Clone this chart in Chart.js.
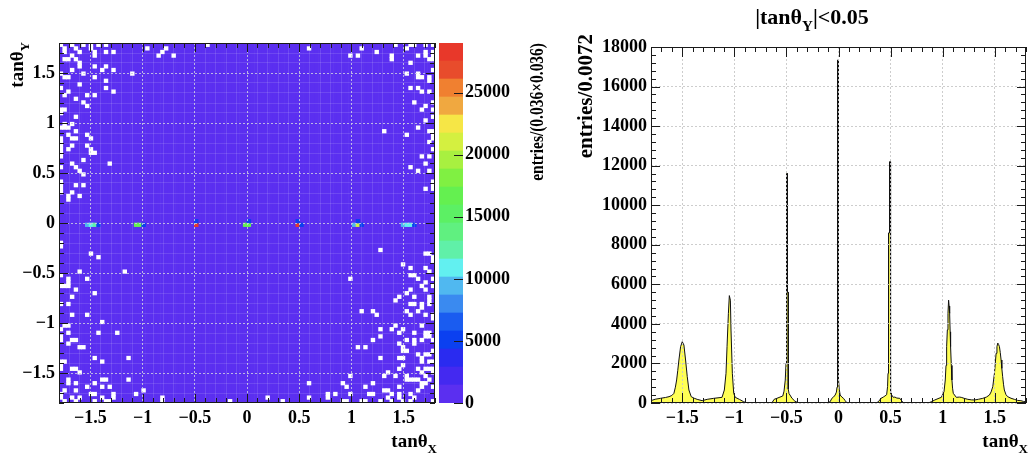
<!DOCTYPE html>
<html>
<head>
<meta charset="utf-8">
<script src="https://cdn.jsdelivr.net/npm/chart.js"></script>
<style>
  body { margin: 0; background: #fff; }
  #wrap { position: relative; width: 1031px; height: 460px; overflow: hidden; }
  #wrap canvas { position: absolute; top: 0; }
</style>
</head>
<body>
<div id="wrap">
  <canvas id="mapChart" width="440" height="460" style="left:0px"></canvas>
  <canvas id="zChart" width="120" height="460" style="left:439px"></canvas>
  <canvas id="projChart" width="471" height="460" style="left:560px"></canvas>
</div>
<script>
// Left: tanθY vs tanθX map (100 x 100 bins of 0.036), right: projection for |tanθY|<0.05

var axisMin = -1.8, axisMax = 1.8;
var nBins = 100;
var binWidth = 0.036;
var majorTicksXY = [-1.5, -1, -0.5, 0, 0.5, 1, 1.5];
var zTicks = [0, 5000, 10000, 15000, 20000, 25000];
var projTicks = [0, 2000, 4000, 6000, 8000, 10000, 12000, 14000, 16000, 18000];

// colour levels of the palette axis, bottom to top
var contourStep = 1450;
var paletteColors = ['#5b2ff0', '#4429f0', '#2a2bf0', '#0b40f0', '#1a5cf0', '#3a8af0', '#50b8f0',
    '#62f0f0', '#60f0a8', '#60f080', '#5cf064', '#64f050', '#80f042', '#a8f040', '#d4f040',
    '#f6e646', '#f0a840', '#f08030', '#e84c2c', '#e8382a'];

// typical content of the populated bins (all in the lowest level)
var backgroundLevel = 500;

// empty bins [ix, row], ix counted from tanθX=-1.8, row counted from tanθY=+1.8 downwards
var emptyCells = [
    [0,0],[3,0],[6,0],[8,0],[8,1],[10,0],[12,0],[1,1],[4,1],[1,2],[5,2],[9,2],[9,3],[12,2],[14,2],
    [3,3],[1,4],[2,4],[4,4],[5,5],[5,6],[9,6],[12,6],[11,7],[14,7],[3,7],[6,8],[19,8],[0,8],
    [1,9],[2,9],[9,9],[12,10],[5,11],[12,12],[0,12],[14,13],[2,13],[7,14],[9,14],[1,14],
    [4,15],[6,16],[7,17],[0,18],[1,18],[0,19],[4,20],[1,22],[3,22],[2,23],[1,23],[0,23],[4,24],
    [2,25],[7,25],[4,26],[0,26],[3,26],[8,26],[0,27],[0,28],[3,28],[7,28],[2,29],[8,29],[0,29],
    [0,30],[8,30],[9,30],[0,31],[6,32],[13,33],[3,33],[4,34],[0,34],[5,35],[6,36],[0,38],
    [4,39],[6,39],[0,39],[0,40],[3,41],[0,41],[2,42],[5,42],[2,43],
    [23,1],[28,1],[27,2],[26,3],[30,3],[39,0],[66,1],
    [80,1],[89,0],[92,1],[93,0],[94,0],[97,0],[99,0],[77,3],[79,3],[84,2],[88,3],[88,4],
    [95,3],[97,2],[97,3],[98,4],[99,2],[99,3],[99,4],[93,5],[92,8],[95,8],[95,9],[96,9],[99,7],
    [98,9],[98,10],[93,12],[95,12],[96,13],[98,13],[94,16],[97,17],[96,18],[99,16],[99,18],
    [99,20],[97,21],[95,23],[98,24],[99,24],[99,25],[99,26],[98,27],[86,24],[92,25],[99,29],
    [96,31],[98,31],[97,33],[93,34],[95,35],[98,35],[99,38],[99,39],[97,40],[99,40],
    [0,55],[0,56],[8,58],[10,59],[5,63],[17,63],[0,64],[7,65],[2,65],[2,66],[2,67],[0,67],
    [1,67],[4,68],[9,69],[3,70],[0,72],[2,72],[3,75],[7,75],[11,77],[1,78],[2,78],[0,79],
    [2,80],[10,80],[15,80],[0,81],[0,82],[3,82],[4,82],[2,83],[5,84],[6,84],[9,87],[11,88],
    [18,87],[0,88],[1,88],[0,89],[0,90],[3,90],[4,90],[5,91],[2,93],[11,93],[12,93],[18,93],
    [4,94],[2,94],[9,94],[7,95],[11,95],[13,95],[1,96],[4,96],[22,96],[8,97],[9,97],[14,97],
    [14,98],[20,97],[0,97],[0,98],[3,98],[5,98],[1,99],[4,99],[9,99],[11,98],[12,99],[13,99],
    [27,98],[27,99],[45,99],
    [85,57],[97,58],[98,58],[99,59],[99,60],[91,61],[93,62],[97,62],[98,63],[77,65],[93,64],
    [94,64],[95,65],[99,65],[97,66],[96,67],[99,67],[97,68],[93,68],[92,69],[94,70],[90,70],
    [98,70],[98,71],[98,72],[89,71],[93,72],[94,72],[96,72],[96,73],[80,74],[83,74],[84,75],
    [92,74],[93,75],[95,74],[97,75],[99,75],[99,76],[96,78],[89,78],[88,79],[85,79],[91,79],
    [90,80],[94,80],[97,80],[98,80],[98,81],[97,81],[85,81],[83,82],[92,82],[94,82],[94,83],
    [96,82],[99,82],[90,83],[79,84],[81,84],[91,84],[91,85],[92,85],[99,85],[95,86],[97,86],
    [98,86],[85,87],[90,87],[91,87],[96,87],[96,88],[98,88],[99,88],[91,89],[90,90],[95,90],
    [96,91],[97,90],[98,90],[99,90],[87,91],[86,92],[89,92],[77,92],[92,92],[93,93],[92,93],
    [94,93],[95,93],[97,92],[98,93],[99,91],[96,94],[97,94],[66,94],[75,94],[76,95],[81,95],
    [83,94],[90,95],[95,96],[96,95],[99,95],[86,96],[87,96],[73,97],[71,97],[71,98],[77,97],
    [82,97],[83,97],[88,97],[90,97],[90,98],[93,97],[94,98],[87,98],[55,98],[66,98],[81,99],
    [80,99],[85,99],[88,99],[91,99],[93,99],[75,99],[76,99],[59,99],[99,99]
];

// filled bins along tanθY ~ 0 [ix, row, entries]
var peakCells = [
    [7,50,9400],[8,50,10800],[9,50,12300],[10,50,5000],
    [20,50,16500],[21,50,17000],[22,50,5000],
    [36,50,28500],[36,49,5500],
    [49,50,16500],[50,50,16000],[50,49,5500],
    [63,50,28000],[64,50,5500],[63,49,5000],
    [78,50,9000],[79,50,21500],[80,50,5000],[79,49,5000],
    [91,50,9000],[92,50,10500],[93,50,10800],[94,50,5000]
];

// projection outline, entries per 0.0072 (repeated x = bin edge of a narrow spike)
var projX = [-1.8, -1.76, -1.71, -1.66, -1.627, -1.6, -1.58, -1.566, -1.554, -1.543, -1.532, -1.516,
    -1.5, -1.484, -1.468, -1.452, -1.436, -1.414, -1.385, -1.357, -1.309, -1.261, -1.198, -1.118,
    -1.096, -1.08, -1.07, -1.057, -1.048, -1.038, -1.032, -1.019, -1.006, -0.991, -0.95, -0.911,
    -0.879, -0.64, -0.618, -0.592, -0.535, -0.523, -0.5112, -0.504, -0.504, -0.4968, -0.4968,
    -0.4896, -0.4896, -0.4824, -0.4824, -0.475, -0.446, -0.42, -0.398, -0.38,
    -0.12, -0.1, -0.08, -0.064, -0.048, -0.032, -0.02, -0.0144, -0.0144, -0.0072, -0.0072,
    0, 0, 0.0072, 0.016, 0.032, 0.048, 0.064, 0.08, 0.1,
    0.36, 0.382, 0.408, 0.43, 0.446, 0.462, 0.471, 0.4752, 0.4752, 0.4824, 0.4824, 0.4896,
    0.4896, 0.4968, 0.4968, 0.503, 0.526, 0.541, 0.56, 0.589, 0.605, 0.621, 0.64,
    0.86, 0.89, 0.924, 0.955, 0.987, 1.013,
    1.025, 1.032, 1.038, 1.045, 1.051, 1.057, 1.062, 1.067, 1.072, 1.076, 1.083, 1.089, 1.095,
    1.102, 1.131, 1.16, 1.178, 1.21, 1.242, 1.275, 1.306, 1.345, 1.385, 1.42, 1.449, 1.465,
    1.481, 1.497, 1.505, 1.513, 1.521, 1.529, 1.537, 1.545, 1.553, 1.561, 1.568, 1.576, 1.584,
    1.592, 1.608, 1.624, 1.656, 1.688, 1.72, 1.751, 1.775, 1.8];
var projEntries = [120, 190, 236, 280, 320, 380, 489, 800, 1163, 1650, 2174, 2848,
    3100, 2932, 2174, 1331, 657, 320, 240, 185, 118, 185, 236, 286,
    657, 1500, 2848, 4533, 5430, 5200, 3690, 1500, 489, 286, 180, 67,
    0, 0, 185, 236, 354, 600, 1160, 2000, 9500, 9500, 11600,
    11600, 5600, 5600, 700, 480, 236, 100, 34, 0,
    0, 20, 67, 236, 300, 404, 550, 800, 13550, 13550, 17340,
    17340, 1200, 700, 404, 300, 236, 120, 17, 0,
    0, 60, 236, 300, 354, 420, 826, 1500, 5500, 5500, 8600, 8600,
    12200, 12200, 1200, 489, 286, 300, 250, 236, 120, 17, 0,
    0, 60, 152, 220, 286, 573,
    1163, 1900, 2848, 3700, 4533, 5200, 4900, 4533, 3600, 2848, 1900, 1163, 750,
    489, 286, 300, 286, 230, 185, 160, 152, 190, 236, 300, 404, 560,
    826, 1500, 2000, 2511, 2850, 3030, 2960, 2848, 2550, 2174, 1750, 1331, 950,
    657, 420, 320, 240, 185, 130, 118, 80, 60];

var serif = "'Liberation Serif', 'Times New Roman', serif";
var tickFont = { family: serif, weight: 'bold', size: 18 };

function isIn(value, list) {
    for (var i = 0; i < list.length; i++)
        if (Math.abs(list[i] - value) < 1e-6) return true;
    return false;
}

// ROOT style labels with a real minus sign
function fmtTick(v) {
    if (Math.abs(v) < 1e-9) return '0';
    var s = String(Math.round(Math.abs(v) * 1000) / 1000);
    return (v < 0 ? '\u2212' : '') + s;
}

function cellCenter(ix) { return axisMin + (ix + 0.5) * binWidth; }
function rowTop(row) { return axisMax - row * binWidth; }
function levelColor(v) {
    var b = Math.min(paletteColors.length - 1, Math.floor(v / contourStep));
    return paletteColors[b];
}

// text with subscripts, optionally rotated to read bottom to top
function drawRichText(ctx, item) {
    var size = item.size, subSize = Math.round(size * 0.68);
    ctx.save();
    ctx.translate(item.x, item.y);
    if (item.rotate) ctx.rotate(-Math.PI / 2);
    if (item.stretch) ctx.scale(item.stretch, 1);
    ctx.fillStyle = '#000';
    ctx.textAlign = 'left';
    ctx.textBaseline = 'alphabetic';
    var widths = [], total = 0;
    item.parts.forEach(function (p) {
        ctx.font = 'bold ' + (p.sub ? subSize : size) + 'px ' + serif;
        var w = ctx.measureText(p.text).width;
        widths.push(w);
        total += w;
    });
    var x = item.align === 'right' ? -total : (item.align === 'center' ? -total / 2 : 0);
    item.parts.forEach(function (p, i) {
        ctx.font = 'bold ' + (p.sub ? subSize : size) + 'px ' + serif;
        ctx.fillText(p.text, x, p.sub ? Math.round(size * 0.3) : 0);
        x += widths[i];
    });
    ctx.restore();
}

var rootTitles = {
    id: 'rootTitles',
    afterDraw: function (chart, args, opts) {
        (opts.items || []).forEach(function (item) { drawRichText(chart.ctx, item); });
    }
};

// frame and inward tick marks
var rootFrame = {
    id: 'rootFrame',
    afterDraw: function (chart, args, opts) {
        var ctx = chart.ctx, a = chart.chartArea;
        ctx.save();
        ctx.strokeStyle = '#1a1a1a';
        ctx.lineWidth = 1;
        ctx.beginPath();
        (opts.axes || []).forEach(function (ax) {
            var s = chart.scales[ax.id];
            s.ticks.forEach(function (t) {
                var major = t.label !== '' && t.label !== undefined;
                var len = major ? ax.major : ax.minor;
                if (!len) return;
                var p = Math.round(s.getPixelForValue(t.value)) + 0.5;
                ax.sides.forEach(function (side) {
                    if (side === 'bottom') { ctx.moveTo(p, a.bottom); ctx.lineTo(p, a.bottom - len); }
                    if (side === 'top') { ctx.moveTo(p, a.top); ctx.lineTo(p, a.top + len); }
                    if (side === 'left') { ctx.moveTo(a.left, p); ctx.lineTo(a.left + len, p); }
                    if (side === 'right') { ctx.moveTo(a.right, p); ctx.lineTo(a.right - len, p); }
                });
            });
        });
        ctx.stroke();
        if (opts.frame) {
            ctx.strokeRect(Math.round(a.left) + 0.5, Math.round(a.top) + 0.5,
                Math.round(a.right - a.left) - 1, Math.round(a.bottom - a.top) - 1);
        }
        ctx.restore();
    }
};

function axisOptions(fitKey, fitSize, majors, step, gridMajor, gridMinor) {
    return {
        type: 'linear',
        min: axisMin,
        max: axisMax,
        offset: false,
        afterFit: function (s) { s[fitKey] = fitSize; },
        ticks: {
            stepSize: step,
            maxTicksLimit: 1000,
            autoSkip: false,
            maxRotation: 0,
            padding: fitKey === 'width' ? 4 : 5,
            color: '#000',
            font: tickFont,
            callback: function (v) { return isIn(v, majors) ? fmtTick(v) : ''; }
        },
        grid: {
            z: 1,
            offset: false,
            drawTicks: false,
            color: function (c) { return isIn(c.tick.value, majors) ? gridMajor : gridMinor; }
        },
        border: {
            display: false,
            dash: function (c) { return c.tick && isIn(c.tick.value, majors) ? [2, 2] : []; }
        }
    };
}

// ---- 2D map drawn as floating bars, one per column and per special bin
var backData = [];
for (var i = 0; i < nBins; i++) backData.push({ x: cellCenter(i), y: [axisMin, axisMax] });

var emptyData = emptyCells.map(function (c) {
    return { x: cellCenter(c[0]), y: [rowTop(c[1] + 1), rowTop(c[1])] };
});
var peakData = peakCells.map(function (c) {
    return { x: cellCenter(c[0]), y: [rowTop(c[1] + 1), rowTop(c[1])] };
});
var peakColors = peakCells.map(function (c) { return levelColor(c[2]); });

var barCommon = { borderWidth: 0, barPercentage: 1, categoryPercentage: 1, grouped: false };

var mapChart = new Chart(document.getElementById('mapChart'), {
    type: 'bar',
    data: {
        datasets: [
            Object.assign({ label: 'peaks', data: peakData, backgroundColor: peakColors, order: 1 }, barCommon),
            Object.assign({ label: 'empty', data: emptyData, backgroundColor: '#ffffff', order: 2 }, barCommon),
            Object.assign({ label: 'entries', data: backData, backgroundColor: levelColor(backgroundLevel), order: 3 }, barCommon)
        ]
    },
    options: {
        responsive: false,
        animation: false,
        layout: { padding: { top: 43, right: 3, bottom: 0, left: 0 } },
        plugins: {
            legend: { display: false },
            tooltip: { enabled: false },
            rootFrame: {
                frame: true,
                axes: [
                    { id: 'x', sides: ['bottom', 'top'], major: 9, minor: 5 },
                    { id: 'y', sides: ['left', 'right'], major: 9, minor: 5 }
                ]
            },
            rootTitles: {
                items: [
                    { parts: [{ text: 'tan\u03b8' }, { text: 'Y', sub: true }], size: 19, x: 23, y: 42, align: 'right', rotate: true },
                    { parts: [{ text: 'tan\u03b8' }, { text: 'X', sub: true }], size: 19, x: 437, y: 447, align: 'right' }
                ]
            }
        },
        scales: {
            x: axisOptions('height', 57, majorTicksXY, 0.1, 'rgba(205,205,225,0.85)', 'rgba(255,255,255,0.12)'),
            y: axisOptions('width', 59, majorTicksXY, 0.1, 'rgba(205,205,225,0.85)', 'rgba(255,255,255,0.12)')
        }
    },
    plugins: [rootFrame, rootTitles]
});

// ---- palette axis, one stacked band per colour level
var zChart = new Chart(document.getElementById('zChart'), {
    type: 'bar',
    data: {
        labels: [''],
        datasets: paletteColors.map(function (col) {
            return { data: [contourStep], backgroundColor: col, borderWidth: 0, barPercentage: 1, categoryPercentage: 1 };
        })
    },
    options: {
        responsive: false,
        animation: false,
        layout: { padding: { top: 43, right: 0, bottom: 57, left: 0 } },
        plugins: {
            legend: { display: false },
            tooltip: { enabled: false },
            rootFrame: { frame: false, axes: [{ id: 'y', sides: ['right'], major: 9, minor: 0 }] },
            rootTitles: {
                items: [
                    { parts: [{ text: 'entries/(0.036\u00d70.036)' }], size: 18, stretch: 0.86, x: 104, y: 43, align: 'right', rotate: true }
                ]
            }
        },
        scales: {
            x: { display: false, stacked: true },
            y: {
                type: 'linear',
                stacked: true,
                position: 'right',
                min: 0,
                max: contourStep * paletteColors.length,
                afterFit: function (s) { s.width = 96; },
                afterBuildTicks: function (s) {
                    s.ticks = zTicks.map(function (v) { return { value: v }; });
                },
                grid: { display: false, drawTicks: false },
                border: { display: false },
                ticks: {
                    autoSkip: false,
                    padding: 2,
                    color: '#000',
                    font: tickFont,
                    callback: function (v) { return String(v); }
                }
            }
        }
    },
    plugins: [rootFrame, rootTitles]
});

// ---- projection
var projData = projX.map(function (x, i) { return { x: x, y: projEntries[i] }; });

var projY = {
    type: 'linear',
    min: 0,
    max: 18000,
    afterFit: function (s) { s.width = 91; },
    ticks: {
        stepSize: 400,
        maxTicksLimit: 1000,
        autoSkip: false,
        padding: 4,
        color: '#000',
        font: tickFont,
        callback: function (v) { return isIn(v, projTicks) ? String(v) : ''; }
    },
    grid: {
        z: 1,
        drawTicks: false,
        color: function (c) { return isIn(c.tick.value, projTicks) ? 'rgba(200,200,200,0.9)' : 'rgba(0,0,0,0)'; }
    },
    border: { display: false, dash: [2, 2] }
};
var projXAxis = axisOptions('height', 57, majorTicksXY, 0.1, 'rgba(200,200,200,0.9)', 'rgba(0,0,0,0)');

var projChart = new Chart(document.getElementById('projChart'), {
    type: 'line',
    data: {
        datasets: [{
            label: '|tan\u03b8Y|<0.05',
            data: projData,
            fill: 'origin',
            backgroundColor: '#ffff55',
            borderColor: '#111111',
            borderWidth: 1,
            pointRadius: 0,
            tension: 0
        }]
    },
    options: {
        responsive: false,
        animation: false,
        layout: { padding: { top: 47, right: 3, bottom: 0, left: 0 } },
        plugins: {
            legend: { display: false },
            tooltip: { enabled: false },
            rootFrame: {
                frame: true,
                axes: [
                    { id: 'x', sides: ['bottom', 'top'], major: 10, minor: 5 },
                    { id: 'y', sides: ['left', 'right'], major: 9, minor: 5 }
                ]
            },
            rootTitles: {
                items: [
                    { parts: [{ text: '|tan\u03b8' }, { text: 'Y', sub: true }, { text: '|<0.05' }], size: 22, x: 252, y: 24, align: 'center' },
                    { parts: [{ text: 'entries/0.0072' }], size: 21, x: 32, y: 34, align: 'right', rotate: true },
                    { parts: [{ text: 'tan\u03b8' }, { text: 'X', sub: true }], size: 19, x: 468, y: 447, align: 'right' }
                ]
            }
        },
        scales: { x: projXAxis, y: projY }
    },
    plugins: [rootFrame, rootTitles]
});
</script>
</body>
</html>
